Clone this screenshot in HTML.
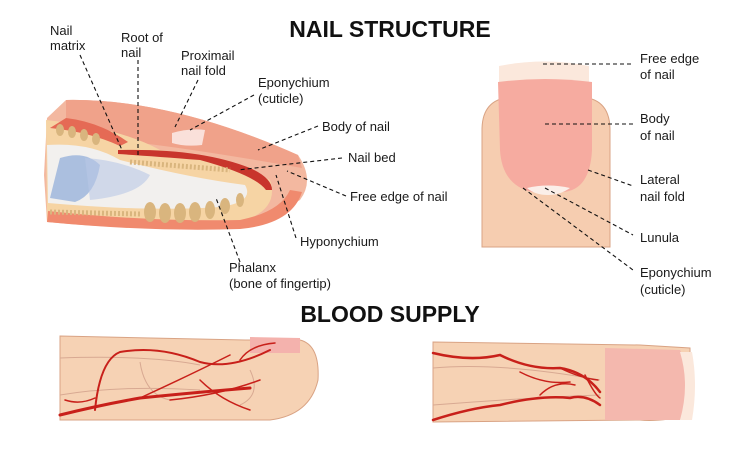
<!DOCTYPE html>
<html><head><meta charset="utf-8"><style>
html,body{margin:0;padding:0;background:#fff;}
svg{display:block}
text{font-family:"Liberation Sans",sans-serif;fill:#1a1a1a;font-size:13px}
.t{font-weight:bold;font-size:23px;fill:#111}
.d{stroke:#111;stroke-width:1.1;stroke-dasharray:4,3;fill:none}
.v{stroke:#c8201a;fill:none;stroke-linecap:round}
</style></head><body>
<svg width="750" height="450" viewBox="0 0 750 450" xmlns="http://www.w3.org/2000/svg">
<text class="t" x="390" y="37" text-anchor="middle">NAIL STRUCTURE</text>
<text class="t" x="390" y="322" text-anchor="middle">BLOOD SUPPLY</text>

<!-- left finger cross-section -->
<path d="M66,100 Q170,98 298,155 Q315,180 300,200 Q270,218 240,226 Q150,232 47,222 L44,175 L47,118 Z" fill="#f3b8a0"/>
<path d="M66,100 Q170,98 298,155 L302,168 Q200,150 140,143 Q100,135 66,128 Z" fill="#f0a28a"/>
<path d="M46,120 Q120,128 160,150 Q230,160 270,180 Q280,210 240,222 Q150,228 47,222 Z" fill="#f6d4a4"/>
<path d="M66,118 Q100,122 128,142 L120,146 Q90,132 50,128 Z" fill="#e56a55"/>
<path d="M118,150 Q200,148 250,168 Q272,178 272,190 L266,190 Q255,175 200,160 Q150,156 118,154 Z" fill="#c8352c"/>
<path d="M47,145 Q90,142 120,160 Q190,178 245,185 Q255,202 220,207 Q150,212 48,203 Z" fill="#f2f0ee"/>
<path d="M60,158 Q85,150 100,165 Q95,195 75,202 L50,198 Z" fill="#9fb6dc" opacity="0.85"/>
<path d="M85,158 Q120,160 150,175 Q140,195 90,200 Z" fill="#b9c8e6" opacity="0.6"/>
<path d="M172,133 Q190,128 205,130 L202,145 Q185,147 172,143 Z" fill="#fae0da"/>
<path d="M48,211 Q150,222 240,220 Q280,212 290,190 L302,192 Q292,224 240,229 Q150,232 47,222 Z" fill="#f08a6e"/>
<g fill="#d9b57e">
<ellipse cx="60" cy="130" rx="4" ry="6"/><ellipse cx="72" cy="132" rx="4" ry="6"/><ellipse cx="84" cy="135" rx="4" ry="6"/><ellipse cx="96" cy="139" rx="4" ry="6"/>
<ellipse cx="150" cy="212" rx="6" ry="10"/><ellipse cx="165" cy="213" rx="6" ry="10"/><ellipse cx="180" cy="213" rx="6" ry="10"/><ellipse cx="195" cy="212" rx="6" ry="10"/><ellipse cx="210" cy="210" rx="5" ry="9"/><ellipse cx="225" cy="206" rx="5" ry="8"/><ellipse cx="240" cy="200" rx="4" ry="7"/>
</g>
<path d="M50,212 L140,214" stroke="#d9b57e" stroke-width="5" stroke-dasharray="2,2"/>
<path d="M130,162 L230,170" stroke="#d9b57e" stroke-width="5" stroke-dasharray="2,2"/>

<text x="50" y="35">Nail</text><text x="50" y="50">matrix</text>
<text x="121" y="42">Root of</text><text x="121" y="57">nail</text>
<text x="181" y="60">Proximail</text><text x="181" y="75">nail fold</text>
<text x="258" y="87">Eponychium</text><text x="258" y="103">(cuticle)</text>
<text x="322" y="131">Body of nail</text>
<text x="348" y="162">Nail bed</text>
<text x="350" y="201">Free edge of nail</text>
<text x="300" y="246">Hyponychium</text>
<text x="229" y="272">Phalanx</text><text x="229" y="288">(bone of fingertip)</text>
<path class="d" d="M80,55 L122,150"/>
<path class="d" d="M138,60 L138,156"/>
<path class="d" d="M198,80 L175,127"/>
<path class="d" d="M254,95 L190,130"/>
<path class="d" d="M318,126 L258,150"/>
<path class="d" d="M342,158 L238,170"/>
<path class="d" d="M346,196 L287,171"/>
<path class="d" d="M296,238 L276,175"/>
<path class="d" d="M240,262 L216,198"/>

<!-- right finger -->
<path d="M482,247 L482,130 Q482,97 515,97 L578,97 Q610,97 610,130 L610,247 Z" fill="#f6cdb0" stroke="#d9a384" stroke-width="1"/>
<path d="M499,66 Q545,57 589,66 L589,88 L499,88 Z" fill="#fbe8dc"/>
<path d="M498,82 Q545,76 592,82 L592,150 Q590,190 563,192 L532,192 Q502,185 500,150 Z" fill="#f6aba0"/>
<path d="M527,188 Q548,183 570,188 Q560,195 548,195 Q535,195 527,188 Z" fill="#fbefe9"/>
<text x="640" y="63">Free edge</text><text x="640" y="79">of nail</text>
<text x="640" y="123">Body</text><text x="640" y="140">of nail</text>
<text x="640" y="184">Lateral</text><text x="640" y="201">nail fold</text>
<text x="640" y="242">Lunula</text>
<text x="640" y="277">Eponychium</text><text x="640" y="294">(cuticle)</text>
<path class="d" d="M543,64 L633,64"/>
<path class="d" d="M545,124 L633,124"/>
<path class="d" d="M588,170 L633,186"/>
<path class="d" d="M545,188 L633,235"/>
<path class="d" d="M523,188 L633,270"/>

<!-- blood supply left -->
<path d="M60,336 L245,340 L300,340 Q320,345 318,380 Q310,415 270,420 L60,420 Z" fill="#f6d2b4" stroke="#d9a384" stroke-width="1"/>
<path d="M250,337 L300,338 L300,353 L250,353 Z" fill="#f4b2ad"/>
<path d="M60,358 Q150,355 200,365 M60,395 Q120,385 200,390 M140,362 Q145,395 170,400 M250,370 Q262,395 240,405" stroke="#d8a992" fill="none"/>
<g class="v">
<path stroke-width="3" d="M60,415 Q100,405 140,398 Q200,392 250,388"/>
<path stroke-width="2" d="M95,410 Q100,360 120,352 Q160,345 200,362 Q230,370 270,350"/>
<path stroke-width="1.5" d="M140,398 Q190,375 230,355 M170,400 Q220,395 260,380 M200,380 Q220,400 250,410 M65,400 Q80,405 95,398 M240,360 Q250,345 275,343"/>
</g>

<!-- blood supply right -->
<path d="M433,342 L640,345 L690,348 L690,415 Q660,422 640,420 L433,422 Z" fill="#f6d2b4" stroke="#d9a384" stroke-width="1"/>
<path d="M605,348 L680,350 Q700,385 680,420 L605,420 Z" fill="#f4b8ae"/>
<path d="M680,352 L692,352 Q698,385 692,420 L680,420 Q690,385 680,352 Z" fill="#fbe8dc"/>
<path d="M433,368 Q500,362 600,380 M433,405 Q520,398 600,395" stroke="#d8a992" fill="none"/>
<g class="v">
<path stroke-width="2.5" d="M433,353 Q470,362 500,355 Q530,370 560,368 Q585,372 600,392"/>
<path stroke-width="2.5" d="M433,420 Q470,408 500,405 Q540,395 570,398 Q585,394 600,405"/>
<path stroke-width="1.5" d="M520,372 Q545,385 570,382 M560,368 Q580,378 598,380 M540,395 Q555,380 575,385 M585,375 Q595,395 600,398"/>
</g>
</svg>
</body></html>
